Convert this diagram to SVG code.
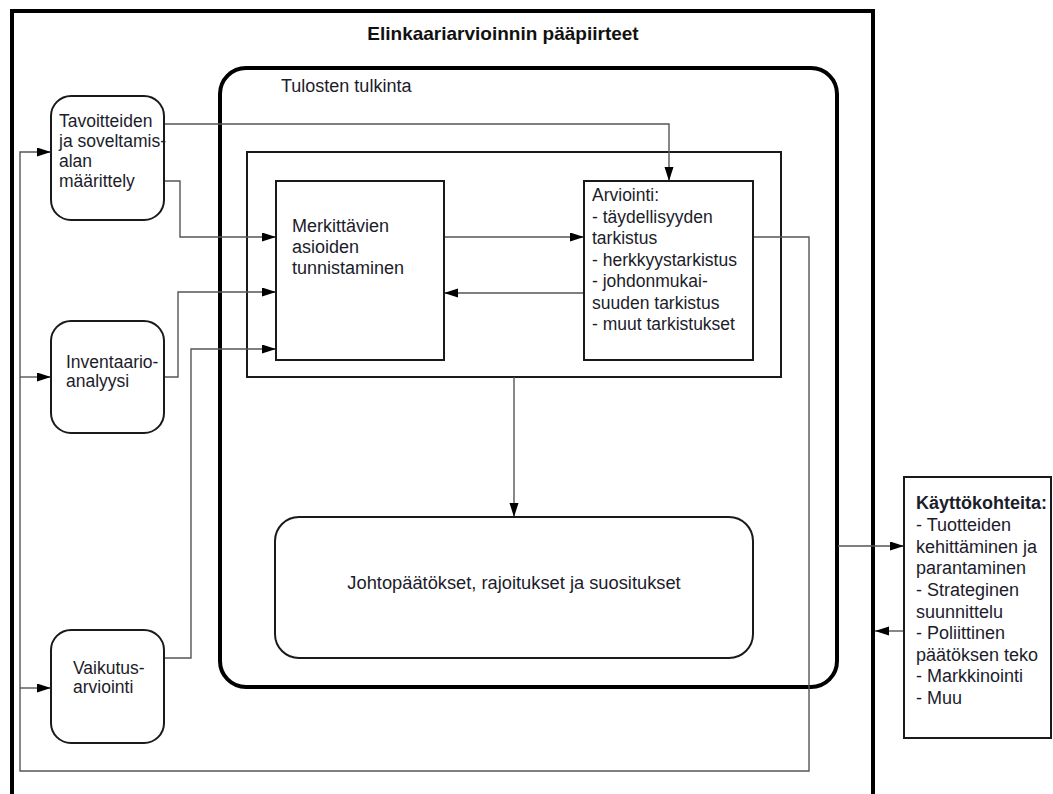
<svg xmlns="http://www.w3.org/2000/svg" width="1053" height="794" viewBox="0 0 1053 794">
  <style>
    .txt { font-family: "Liberation Sans", Arial, sans-serif; font-size: 17.5px; fill: #1c1c2a; }
    .lg { font-size: 18px; }
    .title { font-family: "Liberation Sans", Arial, sans-serif; font-size: 19px; font-weight: bold; fill: #111; }
    .bold { font-weight: bold; }
    .node { fill: #fff; stroke: #1a1a1a; stroke-width: 2; }
    .frame { fill: none; stroke: #000; stroke-width: 4; }
    .big { fill: none; stroke: #000; stroke-width: 4; }
    .inner { fill: none; stroke: #1a1a1a; stroke-width: 2; }
    .conn { fill: none; stroke: #555; stroke-width: 1.4; }
  </style>
  <defs>
    <marker id="arr" markerUnits="userSpaceOnUse" markerWidth="15" markerHeight="10" refX="14" refY="4.5" orient="auto">
      <path d="M0,0 L14,4.5 L0,9 z" fill="#000"/>
    </marker>
  </defs>
  <rect width="1053" height="794" fill="#fff"/>

  <!-- outer frame -->
  <g id="frame">
    <path class="frame" d="M12,800 V11 H873 V800"/>
    <text class="title" x="503" y="40" text-anchor="middle">Elinkaariarvioinnin pääpiirteet</text>
  </g>

  <!-- interpretation area -->
  <g id="tulkinta">
    <rect class="big" x="220" y="68" width="617" height="619" rx="26" ry="26"/>
    <text class="txt lg" x="281" y="92">Tulosten tulkinta</text>
    <rect class="inner" x="247" y="152" width="534" height="225"/>
  </g>

  <!-- connectors -->
  <g id="connectors">
    <path class="conn" d="M164,124 H669 V181" marker-end="url(#arr)"/>
    <path class="conn" d="M164,181 H180 V237 H276" marker-end="url(#arr)"/>
    <path class="conn" d="M164,377 H178 V292 H276" marker-end="url(#arr)"/>
    <path class="conn" d="M164,658 H191 V349 H276" marker-end="url(#arr)"/>
    <path class="conn" d="M444,237 H584" marker-end="url(#arr)"/>
    <path class="conn" d="M584,293 H444" marker-end="url(#arr)"/>
    <path class="conn" d="M753,237 H809 V771 H20 V152 H51" marker-end="url(#arr)"/>
    <path class="conn" d="M20,377 H51" marker-end="url(#arr)"/>
    <path class="conn" d="M20,688 H51" marker-end="url(#arr)"/>
    <path class="conn" d="M514,377 V517" marker-end="url(#arr)"/>
    <path class="conn" d="M838,546 H904" marker-end="url(#arr)"/>
    <path class="conn" d="M904,631 H875" marker-end="url(#arr)"/>
  </g>

  <g id="tavoitteet">
    <rect class="node" x="51" y="96" width="113" height="124" rx="20" ry="20"/>
    <text class="txt">
      <tspan x="59" y="127">Tavoitteiden</tspan>
      <tspan x="59" y="147">ja soveltamis-</tspan>
      <tspan x="59" y="167">alan</tspan>
      <tspan x="59" y="187">määrittely</tspan>
    </text>
  </g>

  <g id="inventaario">
    <rect class="node" x="51" y="321" width="113" height="112" rx="20" ry="20"/>
    <text class="txt">
      <tspan x="66" y="368">Inventaario-</tspan>
      <tspan x="66" y="387">analyysi</tspan>
    </text>
  </g>

  <g id="vaikutus">
    <rect class="node" x="51" y="630" width="113" height="113" rx="20" ry="20"/>
    <text class="txt">
      <tspan x="73" y="674">Vaikutus-</tspan>
      <tspan x="73" y="693">arviointi</tspan>
    </text>
  </g>

  <g id="merkittavat">
    <rect class="node" x="276" y="181" width="168" height="179"/>
    <text class="txt lg">
      <tspan x="292" y="232">Merkittävien</tspan>
      <tspan x="292" y="253">asioiden</tspan>
      <tspan x="292" y="274">tunnistaminen</tspan>
    </text>
  </g>

  <g id="arviointi">
    <rect class="node" x="584" y="181" width="169" height="179"/>
    <text class="txt">
      <tspan x="592" y="201">Arviointi:</tspan>
      <tspan x="592" y="222.5">- täydellisyyden</tspan>
      <tspan x="592" y="244">tarkistus</tspan>
      <tspan x="592" y="265.5">- herkkyystarkistus</tspan>
      <tspan x="592" y="287">- johdonmukai-</tspan>
      <tspan x="592" y="308.5">suuden tarkistus</tspan>
      <tspan x="592" y="330">- muut tarkistukset</tspan>
    </text>
  </g>

  <g id="johtopaatokset">
    <rect class="node" x="275" y="517" width="478" height="141" rx="24" ry="24"/>
    <text class="txt" style="font-size:18.3px" x="514" y="589" text-anchor="middle">Johtopäätökset, rajoitukset ja suositukset</text>
  </g>

  <g id="kayttokohteet">
    <rect class="node" x="904" y="477" width="147" height="261"/>
    <text class="txt lg">
      <tspan x="916" y="509" class="bold">Käyttökohteita:</tspan>
      <tspan x="916" y="531">- Tuotteiden</tspan>
      <tspan x="916" y="552.5">kehittäminen ja</tspan>
      <tspan x="916" y="574">parantaminen</tspan>
      <tspan x="916" y="596">- Strateginen</tspan>
      <tspan x="916" y="617.5">suunnittelu</tspan>
      <tspan x="916" y="639">- Poliittinen</tspan>
      <tspan x="916" y="661">päätöksen teko</tspan>
      <tspan x="916" y="682">- Markkinointi</tspan>
      <tspan x="916" y="704">- Muu</tspan>
    </text>
  </g>
</svg>
